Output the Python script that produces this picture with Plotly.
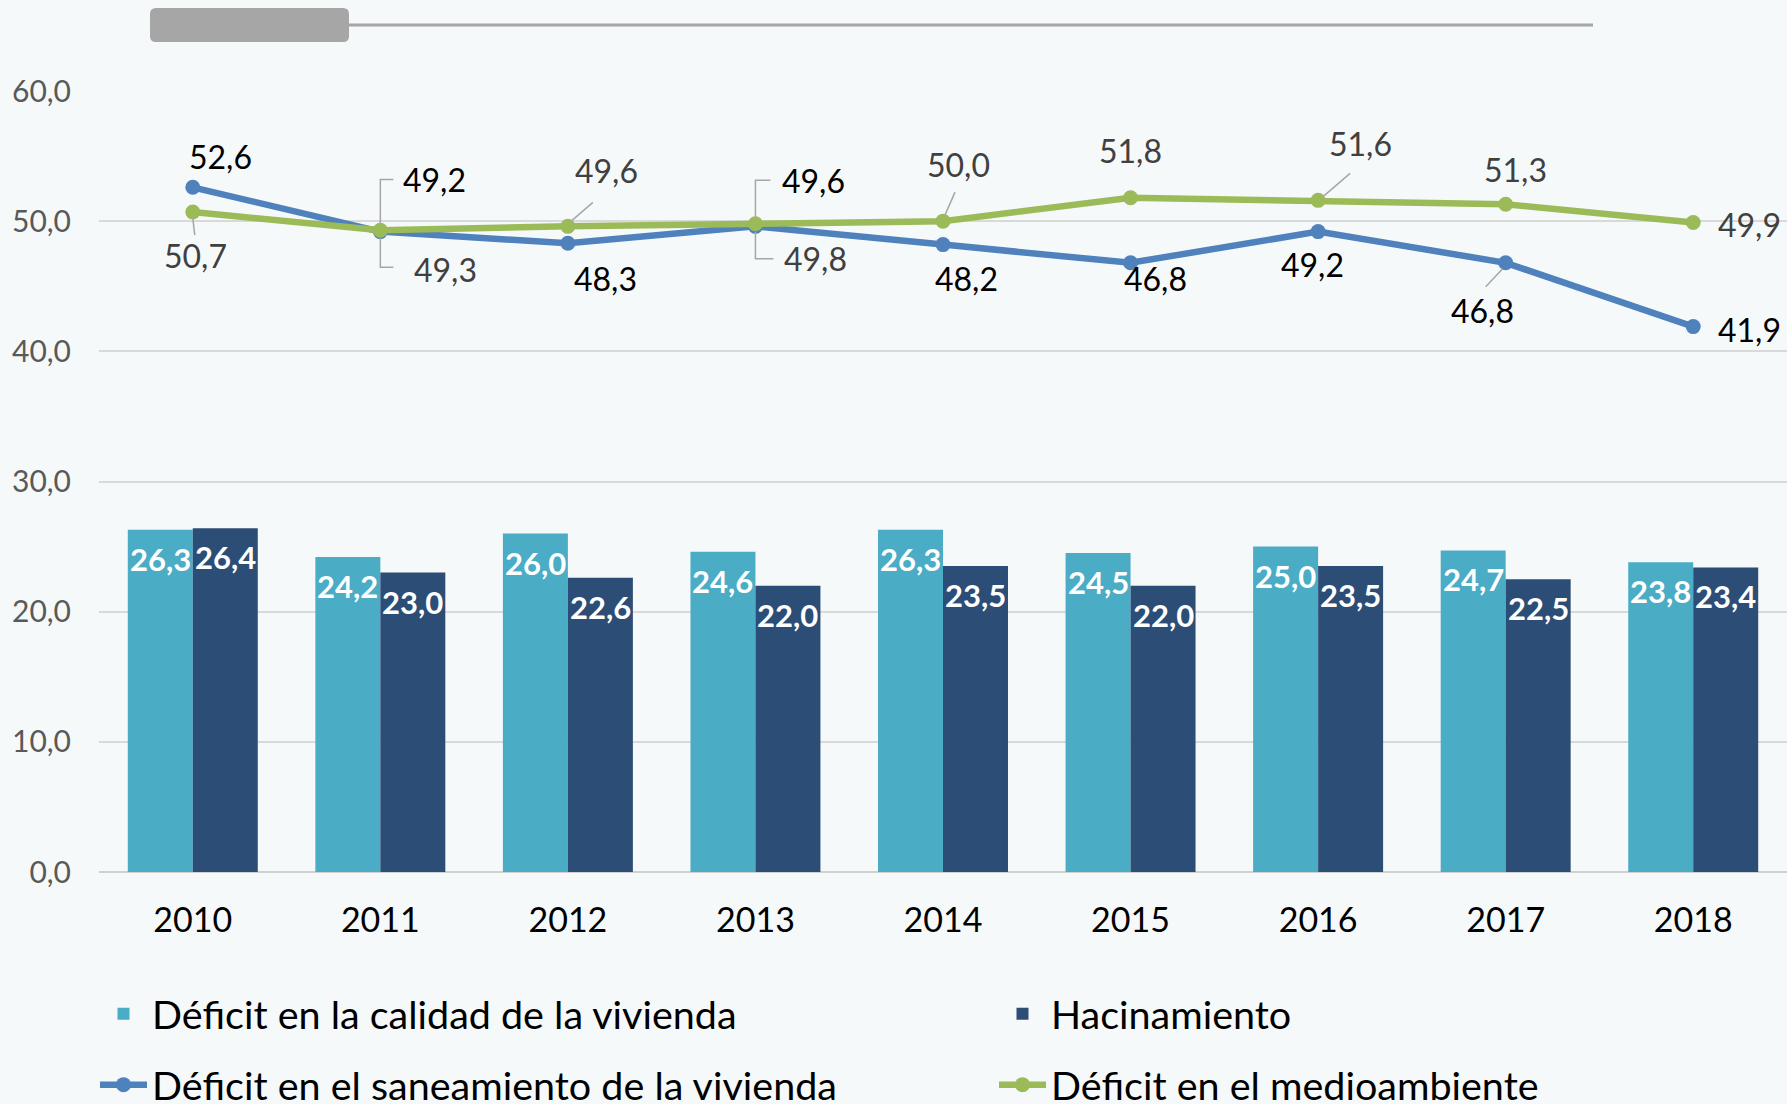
import plotly.graph_objects as go

# ---------------- data ----------------
years = ["2010", "2011", "2012", "2013", "2014", "2015", "2016", "2017", "2018"]
calidad = [26.3, 24.2, 26.0, 24.6, 26.3, 24.5, 25.0, 24.7, 23.8]
hacinamiento = [26.4, 23.0, 22.6, 22.0, 23.5, 22.0, 23.5, 22.5, 23.4]
saneamiento = [52.6, 49.2, 48.3, 49.6, 48.2, 46.8, 49.2, 46.8, 41.9]
medioambiente = [50.7, 49.3, 49.6, 49.8, 50.0, 51.8, 51.6, 51.3, 49.9]
y_ticks = [0, 10, 20, 30, 40, 50, 60]

names = ["Déficit en la calidad de la vivienda", "Hacinamiento",
         "Déficit en el saneamiento de la vivienda", "Déficit en el medioambiente"]

# ---------------- style ----------------
W, H = 1787, 1104
L, R, T, B = 99, 0, 91, 232
BG = "#F6F9FA"
C_CAL, C_HAC, C_SAN, C_MED = "#4BACC6", "#2C4D75", "#4F81BD", "#9BBB59"
FONT = "Lato, sans-serif"
GRAY = "#A6A6A6"

# label offsets (xshift px, yshift px, xanchor, leader path in px relative to point)
san_lbl = [(28, 31, "center", None),
           (21, 52, "left", "M0,8 V52 H13"),
           (38, -35, "center", None),
           (25, 46, "left", "M0,8 V46 H15"),
           (23, -34, "center", None),
           (25, -16, "center", None),
           (-6, -33, "center", None),
           (-23, -48, "center", "M-3,-6 L-20,-24"),
           (23, -3, "left", None)]
med_lbl = [(3, -43, "center", "M0,-6 L2,-23"),
           (32, -39, "left", "M0,-8 V-37 H13"),
           (39, 56, "center", "M3,5 L25,24"),
           (27, -35, "left", "M0,-8 V-35 H18"),
           (15, 57, "center", "M2,6 L12,29"),
           (0, 47, "center", None),
           (42, 57, "center", "M4,3 L32,27"),
           (10, 35, "center", None),
           (23, -2, "left", None)]

fig = go.Figure()
fig.add_trace(go.Bar(x=years, y=calidad, name=names[0], marker=dict(color=C_CAL, line=dict(width=0)),
                     legend="legend"))
fig.add_trace(go.Bar(x=years, y=hacinamiento, name=names[1], marker=dict(color=C_HAC, line=dict(width=0)),
                     legend="legend2"))
fig.add_trace(go.Scatter(x=years, y=saneamiento, name=names[2], mode="lines+markers",
                         line=dict(color=C_SAN, width=6.5), marker=dict(size=15, color=C_SAN),
                         legend="legend3"))
fig.add_trace(go.Scatter(x=years, y=medioambiente, name=names[3], mode="lines+markers",
                         line=dict(color=C_MED, width=6.5), marker=dict(size=15, color=C_MED),
                         legend="legend4"))

def fmt(v):
    return f"{v:.1f}".replace(".", ",")

annotations = []
shapes = []
# bar labels
for i, (a, b) in enumerate(zip(calidad, hacinamiento)):
    for v, xs in ((a, -32.5), (b, 32.5)):
        annotations.append(dict(x=i, y=v, xref="x", yref="y", text="<b>" + fmt(v) + "</b>", showarrow=False,
                                xshift=xs, yshift=-29, xanchor="center", yanchor="middle",
                                font=dict(family=FONT, size=31, color="white")))
# line labels
for series, lbls, col in ((saneamiento, san_lbl, "#000000"), (medioambiente, med_lbl, "#404040")):
    for i, (v, (dx, dy, xa, path)) in enumerate(zip(series, lbls)):
        annotations.append(dict(x=i, y=v, xref="x", yref="y", text=fmt(v), showarrow=False,
                                xshift=dx, yshift=dy, xanchor=xa, yanchor="middle",
                                font=dict(family=FONT, size=32, color=col)))
        if path:
            shapes.append(dict(type="path", xref="x", yref="y", xsizemode="pixel", ysizemode="pixel",
                               xanchor=i, yanchor=v, path=path, layer="above",
                               line=dict(color="#A6A6A6", width=1.5)))

# top decoration (rounded grey handle + line)
pw, ph = W - L - R, H - T - B
def px(x):
    return (x - L) / pw
def py(y):
    return (H - B - y) / ph
x0, x1, y0, y1, r = 150, 349, 8, 42, 6
path = (f"M{px(x0+r)},{py(y0)} L{px(x1-r)},{py(y0)} Q{px(x1)},{py(y0)} {px(x1)},{py(y0+r)} "
        f"L{px(x1)},{py(y1-r)} Q{px(x1)},{py(y1)} {px(x1-r)},{py(y1)} "
        f"L{px(x0+r)},{py(y1)} Q{px(x0)},{py(y1)} {px(x0)},{py(y1-r)} "
        f"L{px(x0)},{py(y0+r)} Q{px(x0)},{py(y0)} {px(x0+r)},{py(y0)} Z")
shapes.append(dict(type="line", xref="paper", yref="paper", x0=px(349), x1=px(1593), y0=py(25), y1=py(25),
                   line=dict(color=GRAY, width=3), layer="above"))
shapes.append(dict(type="path", xref="paper", yref="paper", path=path, fillcolor=GRAY,
                   line=dict(width=0), layer="above"))

def leg(x, y):
    return dict(orientation="h", xref="container", yref="container", x=x / W, y=1 - y / H,
                xanchor="left", yanchor="middle",
                font=dict(family=FONT, size=39.5, color="#000000"), bgcolor="rgba(0,0,0,0)",
                itemwidth=47)

fig.update_layout(
    width=W, height=H, margin=dict(l=L, r=R, t=T, b=B, pad=0),
    paper_bgcolor=BG, plot_bgcolor=BG,
    separators=",.",
    barmode="group", bargap=0.307, bargroupgap=0,
    font=dict(family=FONT, color="#000000"),
    showlegend=True,
    legend=leg(95, 1014), legend2=leg(994, 1014), legend3=leg(95, 1085), legend4=leg(994, 1085),
    xaxis=dict(type="category", range=[-0.5, 8.5], showgrid=False, showline=False, zeroline=False,
               ticks="", tickfont=dict(family=FONT, size=34, color="#000000"), ticklabelstandoff=25),
    yaxis=dict(range=[0, 60], tickvals=y_ticks, tickformat=".1f", showgrid=True, gridcolor="#D9D9D9",
               gridwidth=2, zeroline=True, zerolinecolor="#D0D0D0", zerolinewidth=2, showline=False,
               ticks="", tickfont=dict(family=FONT, size=30, color="#595959"), ticklabelstandoff=27),
    annotations=annotations, shapes=shapes,
)

fig.write_html("out.html", config={"displayModeBar": False},
               post_script="document.body.style.margin='0';document.body.style.padding='0';")
